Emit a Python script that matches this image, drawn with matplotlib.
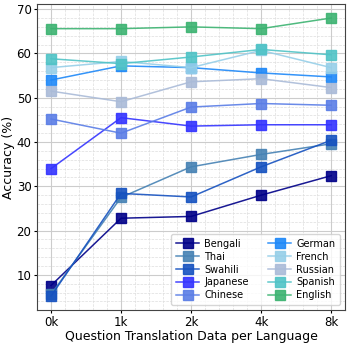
import matplotlib.pyplot as plt
from matplotlib.ticker import MultipleLocator

# x 카테고리
x_labels = ['0k', '1k', '2k', '4k', '8k']

languages = ['Bengali', 'Thai', 'Swahili', 'Japanese', 'Chinese',
             'German', 'French', 'Russian', 'Spanish', 'English']

bengali = [7.6, 22.8, 23.2, 28.0, 32.4]
thai = [5.6, 27.5, 34.4, 37.2, 39.6]
swahili = [5.2, 28.4, 27.6, 34.4, 40.4]
japanese = [34.0, 45.5, 43.6, 43.9, 43.9]
chinese = [45.2, 42.0, 47.9, 48.7, 48.3]
german = [54.0, 57.2, 56.8, 55.6, 54.7]
french = [56.8, 58.2, 56.8, 60.7, 56.8]
russian = [51.5, 49.1, 53.6, 54.3, 52.3]
spanish = [58.8, 57.7, 59.2, 60.9, 59.7]
english = [65.6, 65.6, 66.0, 65.6, 68.0]

colors = ['#000088', '#4682B4', '#1652C0', '#3333FF', '#5A7DE6',
          '#1E88F8', '#96CFE8', '#AABBD8', '#4FC3C6', '#3CB371']

series = [bengali, thai, swahili, japanese, chinese,
          german, french, russian, spanish, english]

fig, ax = plt.subplots(figsize=(3.49, 3.43), dpi=100)
xs = range(len(x_labels))
for name, vals, c in zip(languages, series, colors):
    ax.plot(xs, vals, marker='s', markersize=6.5, linewidth=1.1,
            color=c, label=name, alpha=0.9)

ax.set_xticks(list(xs))
ax.set_xticklabels(x_labels)
ax.xaxis.set_minor_locator(MultipleLocator(0.2))
ax.yaxis.set_major_locator(MultipleLocator(10))
ax.yaxis.set_minor_locator(MultipleLocator(2))
ax.grid(which='major', color='#cccccc', linewidth=0.8)
ax.grid(which='minor', color='#dddddd', linewidth=0.5, linestyle='--')
ax.set_axisbelow(True)
ax.tick_params(which='major', labelsize=8.5, length=2.5, pad=1.5)
ax.tick_params(which='minor', length=0)
for s in ax.spines.values():
    s.set_color('#444444')

ax.set_xlabel('Question Translation Data per Language', fontsize=9, labelpad=1)
ax.set_ylabel('Accuracy (%)', fontsize=9, labelpad=1)
ax.legend(ncol=2, fontsize=7, loc='lower right', handlelength=2.4,
          columnspacing=2.0, handletextpad=0.5, borderpad=0.5, labelspacing=0.3)

plt.subplots_adjust(left=0.106, right=0.989, top=0.988, bottom=0.096)
plt.savefig('out.png', dpi=100)
